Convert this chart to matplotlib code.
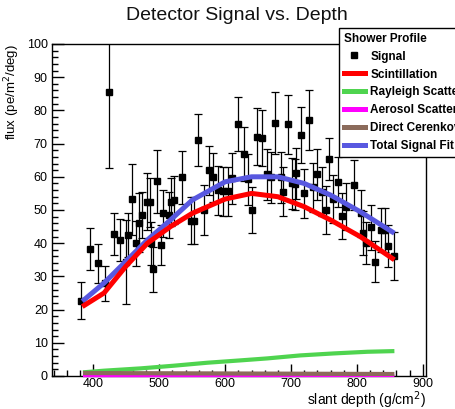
import matplotlib
matplotlib.use("Agg")
import matplotlib.pyplot as plt
from matplotlib.lines import Line2D
from matplotlib.ticker import MultipleLocator

plt.rcParams['font.family'] = ['Liberation Sans', 'DejaVu Sans']

# signal points: depth (g/cm2), flux, error
depth = [381, 395, 407, 418, 424, 431, 440, 449, 452, 458, 464, 469, 474, 482,
         486, 487, 491, 496, 502, 506, 514, 517, 522, 535, 548, 552, 558, 568,
         576, 581, 589, 597, 605, 610, 619, 628, 635, 640, 649, 656, 663, 670,
         676, 685, 688, 696, 702, 706, 708, 715, 720, 728, 734, 740, 747, 753,
         757, 763, 771, 778, 784, 795, 806, 810, 814, 822, 828, 837, 842, 848, 856]
signal = [22.7, 38.3, 33.9, 27.9, 85.4, 42.8, 41.0, 34.3, 42.5, 53.2, 40.0, 46.2,
          48.5, 52.5, 52.3, 40.0, 32.1, 58.7, 39.5, 49.0, 48.5, 52.5, 53.0, 59.8,
          46.8, 46.8, 71.1, 50.0, 62.0, 59.8, 56.0, 55.7, 55.7, 59.5, 75.8, 66.9,
          59.2, 50.0, 72.1, 71.6, 60.7, 59.8, 76.1, 59.8, 55.5, 75.8, 58.0, 57.7,
          61.0, 72.6, 55.0, 77.1, 56.8, 60.7, 55.5, 50.0, 65.4, 53.3, 58.4, 48.2,
          51.0, 57.5, 49.0, 43.0, 40.0, 44.8, 34.4, 44.0, 44.0, 39.2, 36.1]
signal_err = [5.6, 6.3, 5.9, 5.3, 22.6, 6.4, 6.4, 12.6, 6.6, 10.7, 6.8, 9.0,
              7.0, 8.5, 7.3, 6.5, 6.7, 9.5, 6.0, 7.0, 7.0, 7.2, 7.3, 8.0,
              7.0, 7.0, 7.8, 7.5, 7.4, 7.5, 7.4, 7.4, 7.4, 7.6, 8.1, 8.2,
              7.7, 6.8, 8.5, 8.4, 7.7, 7.7, 9.3, 7.7, 7.4, 8.8, 7.6, 7.6,
              7.8, 8.5, 7.4, 9.0, 7.5, 7.8, 7.4, 7.1, 6.3, 7.3, 7.6, 7.0,
              7.1, 7.5, 7.0, 6.6, 6.3, 6.7, 6.2, 6.6, 6.6, 6.3, 7.3]

# model curves
fit_depth = [383, 416, 449, 482, 517, 550, 600, 640, 680, 720, 760, 805, 857]
scintillation = [20.9, 25.0, 33.0, 40.0, 45.0, 49.0, 53.3, 55.0, 54.0, 51.0, 47.0, 42.0, 35.0]
total_fit = [22.5, 28.0, 34.5, 41.0, 47.0, 53.0, 58.5, 60.0, 60.0, 58.0, 54.5, 49.5, 43.0]

ray_depth = [384, 416, 472, 522, 573, 623, 664, 714, 765, 816, 857]
rayleigh = [1.1, 1.6, 2.3, 3.1, 4.0, 4.7, 5.3, 6.2, 6.8, 7.3, 7.5]

flat_depth = [384, 857]
aerosol = [0.05, 0.1]
cerenkov = [0.9, 0.6]

W, H = 455, 409
fig = plt.figure(figsize=(W / 100, H / 100), dpi=100)
ax = fig.add_axes([52 / W, 1 - 376 / H, 374 / W, 332 / H])

ax.errorbar(depth, signal, yerr=signal_err, fmt='s', color='black', ms=4.1,
            elinewidth=0.9, capsize=2.8, capthick=0.9, zorder=3)

ax.plot(fit_depth, total_fit, color='#5858e0', lw=3.6, zorder=4, solid_capstyle='butt')
ax.plot(fit_depth, scintillation, color='#ff0000', lw=3.6, zorder=5, solid_capstyle='butt')
ax.plot(ray_depth, rayleigh, color='#4fd44f', lw=3, zorder=4, solid_capstyle='butt')
ax.plot(flat_depth, aerosol, color='#ff00ff', lw=2, zorder=5.5, clip_on=False,
        solid_capstyle='butt')
ax.plot(flat_depth, cerenkov, color='#8b6b5b', lw=3, zorder=6, solid_capstyle='butt')

ax.set_xlim(337, 905)
ax.set_ylim(0, 100)
ax.xaxis.set_major_locator(MultipleLocator(100))
ax.xaxis.set_minor_locator(MultipleLocator(20))
ax.yaxis.set_major_locator(MultipleLocator(10))
ax.yaxis.set_minor_locator(MultipleLocator(2))
ax.tick_params(which='both', direction='in', top=False, right=False, labelsize=9,
               width=1, colors='black')
ax.tick_params(which='major', length=8.5)
ax.tick_params(which='minor', length=4.3)
ax.tick_params(axis='x', pad=1.5)
ax.tick_params(axis='y', pad=3)
for s in ax.spines.values():
    s.set_linewidth(1)

ax.set_xlabel('slant depth (g/cm$^2$)', fontsize=10, loc='right')
ax.xaxis.set_label_coords(1.0, -0.04)
ax.set_ylabel('flux (pe/m$^2$/deg)', fontsize=9.5, loc='top')
ax.yaxis.set_label_coords(-0.08, 1.0)

fig.text(237 / W, 1 - 15 / H, 'Detector Signal vs. Depth', fontsize=14,
         ha='center', va='center', color='#111111')

handles = [
    Line2D([], [], ls='none', marker='s', ms=4.1, color='black'),
    Line2D([], [], color='#ff0000', lw=3.6),
    Line2D([], [], color='#4fd44f', lw=3.6),
    Line2D([], [], color='#ff00ff', lw=3.6),
    Line2D([], [], color='#8b6b5b', lw=3.6),
    Line2D([], [], color='#5858e0', lw=3.6),
]
labels = ['Signal', 'Scintillation', 'Rayleigh Scatter', 'Aerosol Scatter',
          'Direct Cerenkov', 'Total Signal Fit']
leg = ax.legend(handles, labels, loc='upper left',
                bbox_to_anchor=(339 / W, 1 - 28 / H), bbox_transform=fig.transFigure,
                title='Shower Profile', alignment='left',
                prop={'weight': 'bold', 'size': 8.5},
                title_fontproperties={'weight': 'bold', 'size': 8.5},
                frameon=True, fancybox=False, framealpha=1, edgecolor='black',
                handlelength=1.8, handletextpad=0.45, labelspacing=0.5,
                borderpad=0.4, borderaxespad=0)
leg.get_frame().set_linewidth(1)
leg.set_zorder(10)

fig.savefig('out.png', dpi=100)
